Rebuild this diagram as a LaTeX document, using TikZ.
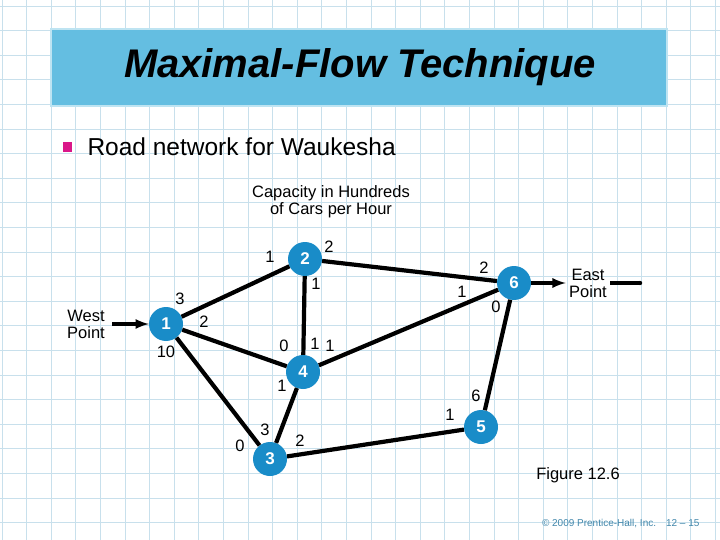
\documentclass[tikz,border=0pt]{standalone}
\usepackage{fontspec}
\setmainfont{Liberation Sans}
\begin{document}
\begin{tikzpicture}[x=1pt,y=-1pt,
  nd/.style={circle,fill=nodeblue,minimum size=34pt,inner sep=0pt,text=white,font=\fontsize{17}{17}\selectfont\bfseries},
  lb/.style={font=\fontsize{16.5}{16.5}\selectfont},
  ed/.style={line width=4.2pt},
  ar/.style={line width=3.5pt,-latex}]
\definecolor{nodeblue}{RGB}{25,140,200}
\definecolor{gridc}{RGB}{200,224,236}
\definecolor{titlec}{RGB}{100,190,225}
\definecolor{titleb}{RGB}{190,228,242}
\useasboundingbox (0,0) rectangle (720,540);
\fill[white] (0,0) rectangle (720,540);
\foreach \i in {0,...,29} {\draw[gridc,line width=0.8pt] (2+24.6*\i,0) -- (2+24.6*\i,540);}
\foreach \i in {0,...,22} {\draw[gridc,line width=0.8pt] (0,6+24.6*\i) -- (720,6+24.6*\i);}
\filldraw[fill=titlec,draw=titleb,line width=2.5pt] (51,29) rectangle (667,106);
\node (title) at (360,67) {\fontsize{40}{40}\selectfont\bfseries\itshape Maximal-Flow Technique};
\fill[magenta!80!violet] (63,142) rectangle (72,152);
\node[anchor=west] (bul) at (84,147) {\fontsize{24.5}{24.5}\selectfont Road network for Waukesha};
\node[align=center,font=\fontsize{16.5}{17}\selectfont] (cap) at (331,202) {Capacity in Hundreds\\of Cars per Hour};
\node (n1) [nd] at (166,324) {1};
\node (n2) [nd] at (305,259) {2};
\node (n3) [nd] at (270,459) {3};
\node (n4) [nd] at (303,372) {4};
\node (n5) [nd] at (481,427) {5};
\node (n6) [nd] at (514,283) {6};
\node[align=center,font=\fontsize{16.5}{17}\selectfont] (wp) at (86,324) {West\\Point};
\node[align=center,font=\fontsize{16.5}{17}\selectfont] (ep) at (588,283) {East\\Point};
\coordinate (wps) at (112,324);
\coordinate (epe) at (640,283);
\draw[ar] (wps) -- (n1);
\draw[ar] (n6) -- (ep);
\draw[line width=3.5pt] (ep.east) -- (epe);
\fill (epe) circle (2.2pt);
\draw[ed] (n1) -- (n2);
\draw[ed] (n1) -- (n4);
\draw[ed] (n1) -- (n3);
\draw[ed] (n2) -- (n4);
\draw[ed] (n2) -- (n6);
\draw[ed] (n4) -- (n6);
\draw[ed] (n4) -- (n3);
\draw[ed] (n3) -- (n5);
\draw[ed] (n5) -- (n6);
\node[lb] (l1) at (270,257) {1};
\node[lb] (l2) at (329,247) {2};
\node[lb] (l3) at (316,284) {1};
\node[lb] (l4) at (484,268) {2};
\node[lb] (l5) at (462,292) {1};
\node[lb] (l6) at (496,307) {0};
\node[lb] (l7) at (180,299) {3};
\node[lb] (l8) at (204,322) {2};
\node[lb] (l9) at (166,352) {10};
\node[lb] (l10) at (284,346) {0};
\node[lb] (l11) at (315,344) {1};
\node[lb] (l12) at (330,346) {1};
\node[lb] (l13) at (282,386) {1};
\node[lb] (l14) at (476,396) {6};
\node[lb] (l15) at (450,415) {1};
\node[lb] (l16) at (265,430) {3};
\node[lb] (l17) at (240,446) {0};
\node[lb] (l18) at (300,441) {2};
\node[font=\fontsize{16.5}{16.5}\selectfont] (fig) at (578,475) {Figure 12.6};
\node[anchor=east,font=\fontsize{10}{10}\selectfont,text=nodeblue!60!gray] (cr) at (703,524) {\textcopyright\ 2009 Prentice-Hall, Inc.\quad 12 -- 15};
\end{tikzpicture}
\end{document}
